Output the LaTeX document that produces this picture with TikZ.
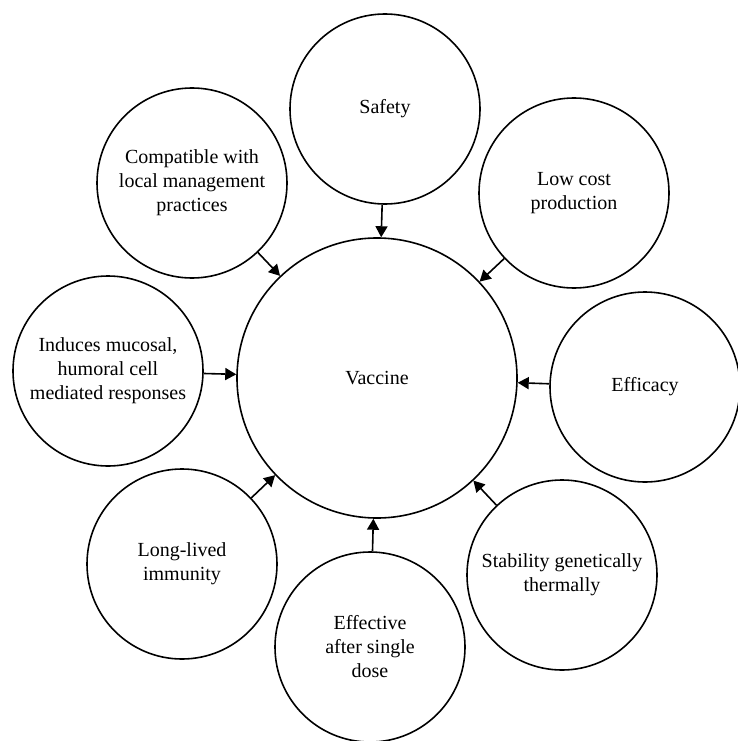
\documentclass[tikz,border=0pt]{standalone}
\usepackage{fontspec}
\setmainfont{Liberation Serif}
\usetikzlibrary{arrows.meta}
\begin{document}
\begin{tikzpicture}[x=1bp,y=-1bp,
  hub/.style={draw,circle,line width=1.6bp,minimum size=280bp,inner sep=0pt,
    font=\fontsize{20bp}{24bp}\selectfont},
  trait/.style={draw,circle,line width=1.6bp,minimum size=190bp,inner sep=0pt,
    align=center,font=\fontsize{20bp}{24bp}\selectfont},
  feed/.style={line width=1.6bp,-{Triangle[length=11bp,width=12bp]}}]
\useasboundingbox (0,0) rectangle (738,741);
\node[hub] (vac) at (377,378) {Vaccine};
\node[trait] (safe) at (385,109) {Safety};
\node[trait] (cost) at (574,193) {Low cost\\production};
\node[trait] (eff)  at (645,387) {Efficacy};
\node[trait] (stab) at (562,575) {Stability genetically\\thermally};
\node[trait] (dose) at (370,647) {Effective\\after single\\dose};
\node[trait] (life) at (182,564) {Long-lived\\immunity};
\node[trait] (muc)  at (108,371) {Induces mucosal,\\humoral cell\\mediated responses};
\node[trait] (comp) at (192,183) {Compatible with\\local management\\practices};
\foreach \s in {safe,cost,eff,stab,dose,life,muc,comp}
  \draw[feed] (\s) -- (vac);
\end{tikzpicture}
\end{document}
